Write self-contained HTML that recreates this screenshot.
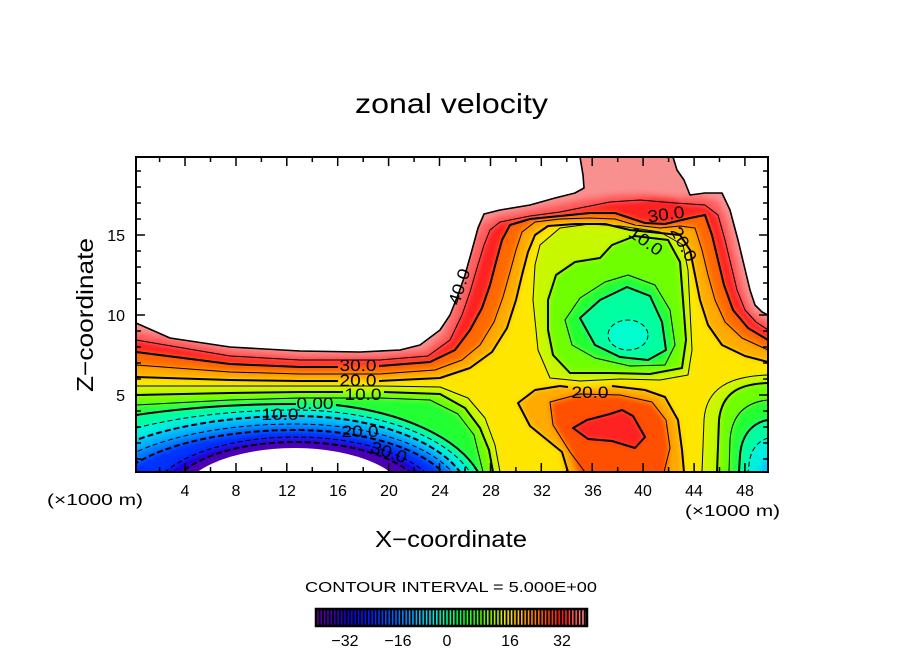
<!DOCTYPE html>
<html><head><meta charset="utf-8"><style>
html,body{margin:0;padding:0;background:#fff;}
svg{display:block;font-family:"Liberation Sans",sans-serif;}
</style></head><body>
<svg width="904" height="654" viewBox="0 0 904 654" xmlns="http://www.w3.org/2000/svg">
<defs>
<clipPath id="pc"><rect x="136" y="157" width="632" height="315"/></clipPath>
<filter id="bl" x="-5%" y="-5%" width="110%" height="110%"><feGaussianBlur stdDeviation="3"/></filter>
<linearGradient id="cb" x1="317" y1="0" x2="586" y2="0" gradientUnits="userSpaceOnUse">
<stop offset="0" stop-color="#6400a0"/><stop offset="0.06" stop-color="#3c00b4"/><stop offset="0.12" stop-color="#1400dc"/>
<stop offset="0.2" stop-color="#001eff"/><stop offset="0.3" stop-color="#006eff"/><stop offset="0.36" stop-color="#00aaff"/>
<stop offset="0.42" stop-color="#00e1f0"/><stop offset="0.48" stop-color="#00ffa0"/><stop offset="0.54" stop-color="#00ff3c"/>
<stop offset="0.6" stop-color="#3cff00"/><stop offset="0.66" stop-color="#aaf000"/><stop offset="0.71" stop-color="#ffe600"/>
<stop offset="0.78" stop-color="#ffa000"/><stop offset="0.86" stop-color="#ff4600"/><stop offset="0.91" stop-color="#ff1414"/>
<stop offset="0.96" stop-color="#ff5a5a"/><stop offset="1" stop-color="#ff9696"/>
</linearGradient>
<pattern id="st" x="317" y="0" width="3.4" height="40" patternUnits="userSpaceOnUse"><rect x="1.6" y="0" width="1.8" height="40" fill="#000"/></pattern>
</defs>

<text x="451.5" y="113" font-size="28" text-anchor="middle" textLength="193" lengthAdjust="spacingAndGlyphs">zonal velocity</text>

<g clip-path="url(#pc)">
<g filter="url(#bl)">
<rect x="120" y="140" width="670" height="355" fill="#f99090"/>
<path fill="#ff6060" d="M120,330 L136,331 L230,349 L300,354 L380,354 L425,349 L443,334 L452,312 L460,290 L467,265 L474,240 L481,223 L498,215 L530,209 L560,203 L585,198 L615,194 L645,193 L675,196 L702,196 L719,201 L728,222 L735,250 L741,275 L747,298 L753,312 L768,320 L790,322 L790,495 L120,495 Z"/>
<path fill="#ff2020" d="M120,339 L136,340 L230,356 L300,360 L380,360 L428,356 L450,340 L462,315 L470,292 L477,268 L484,245 L490,230 L500,222 L530,216 L560,212 L585,207 L610,202 L640,200 L675,203 L705,205 L718,215 L725,240 L731,265 L737,290 L745,310 L756,322 L768,330 L790,333 L790,495 L120,495 Z"/>
<path fill="#ff6a00" d="M120,351 L136,352 L230,364 L300,367 L380,366 L430,362 L455,350 L470,330 L482,308 L490,285 L496,262 L502,240 L510,225 L530,219 L560,216 L590,213 L615,213 L630,218 L645,223 L665,224 L690,218 L705,215 L712,235 L718,260 L724,285 L733,310 L748,328 L768,340 L790,342 L790,495 L120,495 Z"/>
<path fill="#ffaa00" d="M120,364 L136,365 L230,372 L300,374 L380,374 L435,370 L462,360 L480,345 L494,322 L503,297 L510,272 L516,250 L522,232 L535,222 L560,219 L590,218 L615,219 L635,225 L660,228 L680,226 L695,228 L702,250 L708,275 L715,300 L725,322 L742,338 L768,350 L790,352 L790,495 L120,495 Z"/>
<path fill="#ffe600" d="M120,376 L136,377 L230,380 L300,381 L380,381 L440,378 L470,368 L492,352 L507,328 L516,300 L522,275 L528,252 L535,235 L548,226 L575,224 L605,224 L630,230 L660,233 L680,235 L690,250 L695,275 L700,300 L708,325 L722,345 L745,356 L768,362 L790,364 L790,495 L120,495 Z"/>
<ellipse cx="657" cy="209" rx="30" ry="11" fill="#ff2020"/>
<path fill="#c8f800" d="M120,386 L136,386 L230,386 L300,386 L380,386 L440,387 L468,398 L485,418 L495,445 L500,472 L502,495 L120,495 Z"/>
<path fill="#70ff00" d="M120,395 L136,395 L230,393 L300,392 L380,392 L440,394 L465,408 L480,428 L489,450 L493,472 L495,495 L120,495 Z"/>
<path fill="#20ff30" d="M120,404 L136,405 L230,400 L300,398 L380,398 L430,400 L458,414 L474,435 L483,472 L485,495 L120,495 Z"/>
<path fill="#00ffa0" d="M-47,500 A342,96 0 0 1 295,404 A191,96 0 0 1 486,500 Z"/>
<path fill="#00f0e0" d="M30,500 A265,90 0 0 1 295,410 A184,90 0 0 1 479,500 Z"/>
<path fill="#00b4ff" d="M68,500 A227,84 0 0 1 295,416 A175,84 0 0 1 470,500 Z"/>
<path fill="#0078ff" d="M90,500 A205,76 0 0 1 295,424 A169,76 0 0 1 464,500 Z"/>
<path fill="#0032ff" d="M108,500 A187,70 0 0 1 295,430 A161,70 0 0 1 456,500 Z"/>
<path fill="#1400e0" d="M150,500 A145,63 0 0 1 295,437 A145,63 0 0 1 440,500 Z"/>
<path fill="#5000b0" d="M166,500 A129,58 0 0 1 295,442 A131,58 0 0 1 426,500 Z"/>
<path fill="#c8f800" d="M540,245 L560,228 L590,224 L620,226 L660,232 L683,245 L688,270 L690,310 L692,350 L688,375 L660,380 L620,379 L580,381 L550,378 L538,350 L533,300 L535,265 Z"/>
<path fill="#70ff00" d="M548,330 L548,300 L556,275 L575,262 L600,258 L612,245 L635,236 L668,240 L680,262 L683,300 L686,340 L682,368 L650,374 L610,373 L570,373 L553,355 Z"/>
<path fill="#20ff30" d="M565,320 L580,298 L605,282 L628,275 L655,285 L670,310 L675,345 L665,365 L630,366 L595,358 L572,345 Z"/>
<path fill="#00ffa0" d="M580,318 L600,300 L627,287 L650,296 L662,322 L666,350 L648,360 L620,357 L595,345 Z"/>
<ellipse cx="628" cy="335" rx="20" ry="15" fill="#00ffd0"/>
<path fill="#ffaa00" d="M518,403 L535,390 L560,386 L585,388 L610,386 L645,390 L665,397 L678,420 L682,450 L684,495 L568,495 L562,452 L530,426 Z"/>
<path fill="#ff5000" d="M550,402 L580,394 L620,395 L652,402 L666,420 L670,448 L664,495 L585,495 L570,452 L553,425 Z"/>
<path fill="#ff2020" d="M573,428 L587,420 L610,414 L622,410 L633,416 L645,437 L635,448 L612,441 L588,439 Z"/>
<path fill="#c8f800" d="M790,374 L768,375 C730,376 706,388 704,420 L702,495 L790,495 Z"/>
<path fill="#70ff00" d="M790,383 L768,383 C740,384 722,392 719,420 L717,495 L790,495 Z"/>
<path fill="#20ff30" d="M790,400 L768,400 C748,402 732,412 730,440 L729,495 L790,495 Z"/>
<path fill="#00ffa0" d="M790,420 L768,420 C755,422 742,432 740,455 L739,495 L790,495 Z"/>
<path fill="#00f0e0" d="M790,438 L768,438 C758,441 750,450 749,465 L748,495 L790,495 Z"/>
<path fill="#00c8ff" d="M790,456 L768,456 C764,460 760,466 759,472 L759,495 L790,495 Z"/>
</g>
<path fill="#fff" d="M179,500 A116,52 0 0 1 295,448 A113,52 0 0 1 408,500 Z"/>
<path fill="#fff" d="M130,150 L580,150 L580,157 L583,175 L584,188 L575,193 L555,198 L530,205 L500,210 L484,214 L478,228 L472,250 L465,275 L458,295 L450,315 L440,330 L420,345 L400,350 L360,352 L300,351 L230,347 L170,338 L136,323 L130,322 Z"/>
<path fill="#fff" d="M673,150 L775,150 L775,316 L768,315 L762,312 L755,305 L750,290 L744,265 L738,240 L730,210 L722,193 L705,193 L690,195 L684,180 L677,170 L673,157 Z"/>
<g fill="none" stroke="#000" stroke-width="1.6" stroke-linejoin="round">
<path d="M580,157 L583,175 L584,188 L575,193 L555,198 L530,205 L500,210 L484,214 L478,228 L472,250 L465,275 L458,295 L450,315 L440,330 L420,345 L400,350 L360,352 L300,351 L230,347 L170,338 L136,323"/>
<path d="M673,157 L677,170 L684,180 L690,195 L705,193 L722,193 L730,210 L738,240 L744,265 L750,290 L755,305 L762,312 L768,315"/>
</g>
<g fill="none" stroke="#000" stroke-width="1" stroke-linejoin="round">
<path d="M136,340 L230,356 L300,360 L380,360 L428,356 L450,340 L462,315 L470,292 L477,268 L484,245 L490,230 L500,222 L530,216 L560,212 L585,207 L610,202 L640,200 L675,203 L705,205 L718,215 L725,240 L731,265 L737,290 L745,310 L756,322 L768,330"/>
<path d="M136,365 L230,372 L300,374 L380,374 L435,370 L462,360 L480,345 L494,322 L503,297 L510,272 L516,250 L522,232 L535,222 L560,219 L590,218 L615,219 L635,225 L660,228 L680,226 L695,228 L702,250 L708,275 L715,300 L725,322 L742,338 L768,350"/>
<path d="M136,386 L230,386 L300,386 L380,386 L440,387 L468,398 L485,418 L495,445 L500,472"/>
<path d="M136,405 L230,400 L300,398 L380,398 L430,400 L458,414 L474,435 L483,472"/>
<path d="M540,245 L560,228 L590,224 L620,226 L660,232 L683,245 L688,270 L690,310 L692,350 L688,375 L660,380 L620,379 L580,381 L550,378 L538,350 L533,300 L535,265 Z"/>
<path d="M565,320 L580,298 L605,282 L628,275 L655,285 L670,310 L675,345 L665,365 L630,366 L595,358 L572,345 Z"/>
<path d="M585,472 L570,452 L553,425 L550,402 L580,394 L620,395 L652,402 L666,420 L670,448 L664,472"/>
<path d="M768,375 C730,376 706,388 704,420 L702,472"/>
<path d="M768,400 C748,402 732,412 730,440 L729,472"/>
</g>
<g fill="none" stroke="#000" stroke-width="2" stroke-linejoin="round">
<path d="M136,352 L230,364 L300,367 L338,367 M379,366 L430,362 L455,350 L470,330 L482,308 L490,285 L496,262 L502,240 L510,225 L530,219 L560,216 L590,213 L615,213 L630,218 L645,223 L665,224 L690,218 L705,215 L712,235 L718,260 L724,285 L733,310 L748,328 L768,340"/>
<path d="M136,377 L230,380 L300,381 L338,381 M379,381 L440,378 L470,368 L492,352 L507,328 L516,300 L522,275 L528,252 L535,235 L548,226 L575,224 L605,224 L630,230 L660,233 L680,235 L690,250 L695,275 L700,300 L708,325 L722,345 L745,356 L768,362"/>
<path d="M136,395 L230,393 L300,392 L343,392 M384,392 L440,394 L465,408 L480,428 L489,450 L493,472"/>
<path d="M136,415 A342,96 0 0 1 295,404 L296,404 M336,405 A191,96 0 0 1 478,472"/>
<path d="M548,330 L548,300 L556,275 L575,262 L600,258 L612,245 L635,236 L668,240 L680,262 L683,300 L686,340 L682,368 L650,374 L610,373 L570,373 L553,355 Z"/>
<path d="M580,318 L600,300 L627,287 L650,296 L662,322 L666,350 L648,360 L620,357 L595,345 Z"/>
<path d="M568,472 L562,452 L530,426 L518,403 L535,390 L560,386 L568,387 M612,386 L645,390 L665,397 L678,420 L682,450 L684,472"/>
<path d="M573,428 L587,420 L610,414 L622,410 L633,416 L645,437 L635,448 L612,441 L588,439 Z"/>
<path d="M768,383 C740,384 722,392 719,420 L717,472"/>
<path d="M768,420 C755,422 742,432 740,455 L739,472"/>
</g>
<g fill="none" stroke="#000" stroke-width="1" stroke-dasharray="5 3">
<path d="M30,500 A265,90 0 0 1 295,410 A184,90 0 0 1 479,500"/>
<path d="M90,500 A205,76 0 0 1 295,424 A169,76 0 0 1 464,500"/>
<path d="M150,500 A145,63 0 0 1 295,437 A145,63 0 0 1 440,500"/>
<path d="M768,438 C758,441 750,450 749,465 L748,472"/>
<ellipse cx="628" cy="335" rx="20" ry="15"/>
</g>
<g fill="none" stroke="#000" stroke-width="2" stroke-dasharray="6 3">
<path d="M68,500 A227,84 0 0 1 295,416 A175,84 0 0 1 470,500"/>
<path d="M108,500 A187,70 0 0 1 295,430 A161,70 0 0 1 456,500"/>
<path d="M166,500 A129,58 0 0 1 295,442 A131,58 0 0 1 426,500"/>
</g>
<g font-size="17" fill="#000" text-anchor="middle">
<text x="358" y="371" textLength="37" lengthAdjust="spacingAndGlyphs">30.0</text>
<text x="358" y="386" textLength="37" lengthAdjust="spacingAndGlyphs">20.0</text>
<text x="363" y="400" textLength="37" lengthAdjust="spacingAndGlyphs">10.0</text>
<text x="315" y="409" textLength="37" lengthAdjust="spacingAndGlyphs">0.00</text>
<text x="280" y="420" textLength="37" lengthAdjust="spacingAndGlyphs">10.0</text>
<text x="360" y="437" textLength="37" lengthAdjust="spacingAndGlyphs">20.0</text>
<text x="389" y="458" textLength="37" lengthAdjust="spacingAndGlyphs" transform="rotate(18 389 452)">30.0</text>
<text x="460" y="292" textLength="37" lengthAdjust="spacingAndGlyphs" transform="rotate(-72 460 287)">40.0</text>
<text x="666" y="220" textLength="37" lengthAdjust="spacingAndGlyphs" transform="rotate(-8 666 214)">30.0</text>
<text x="646" y="247" textLength="37" lengthAdjust="spacingAndGlyphs" transform="rotate(35 646 241)">10.0</text>
<text x="684" y="250" textLength="37" lengthAdjust="spacingAndGlyphs" transform="rotate(62 684 244)">20.0</text>
<text x="590" y="398" textLength="37" lengthAdjust="spacingAndGlyphs">20.0</text>
</g>
</g>

<rect x="136" y="157" width="632" height="315" fill="none" stroke="#000" stroke-width="2"/>
<g stroke="#000" stroke-width="1.5" fill="none">
<path d="M185,472v-9M236,472v-9M286.8,472v-9M337.7,472v-9M388.6,472v-9M439.5,472v-9M490.5,472v-9M541.3,472v-9M592.2,472v-9M643.1,472v-9M694.1,472v-9M744.9,472v-9"/>
<path d="M159.6,472v-5M210.5,472v-5M261.4,472v-5M312.3,472v-5M363.2,472v-5M414.1,472v-5M465,472v-5M515.9,472v-5M566.8,472v-5M617.7,472v-5M668.6,472v-5M719.5,472v-5"/>
<path d="M185,157v9M236,157v9M286.8,157v9M337.7,157v9M388.6,157v9M439.5,157v9M490.5,157v9M541.3,157v9M592.2,157v9M643.1,157v9M694.1,157v9M744.9,157v9"/>
<path d="M159.6,157v5M210.5,157v5M261.4,157v5M312.3,157v5M363.2,157v5M414.1,157v5M465,157v5M515.9,157v5M566.8,157v5M617.7,157v5M668.6,157v5M719.5,157v5"/>
<path d="M136,395h9M136,315h9M136,235h9M768,395h-9M768,315h-9M768,235h-9"/>
<path d="M136,459h5M136,443h5M136,427h5M136,411h5M136,379h5M136,363h5M136,347h5M136,331h5M136,299h5M136,283h5M136,267h5M136,251h5M136,219h5M136,203h5M136,187h5M136,171h5"/>
<path d="M768,459h-5M768,443h-5M768,427h-5M768,411h-5M768,379h-5M768,363h-5M768,347h-5M768,331h-5M768,299h-5M768,283h-5M768,267h-5M768,251h-5M768,219h-5M768,203h-5M768,187h-5M768,171h-5"/>
</g>

<g font-size="16" fill="#000" text-anchor="middle">
<text x="185" y="496">4</text><text x="236" y="496">8</text><text x="287" y="496">12</text><text x="338" y="496">16</text>
<text x="389" y="496">20</text><text x="440" y="496">24</text><text x="491" y="496">28</text><text x="542" y="496">32</text>
<text x="593" y="496">36</text><text x="643" y="496">40</text><text x="694" y="496">44</text><text x="745" y="496">48</text>
</g>
<g font-size="16" fill="#000" text-anchor="end">
<text x="125" y="241">15</text><text x="125" y="321">10</text><text x="125" y="401">5</text>
</g>
<text x="47" y="505" font-size="16" textLength="96" lengthAdjust="spacingAndGlyphs">(×1000 m)</text>
<text x="685" y="516" font-size="16" textLength="95" lengthAdjust="spacingAndGlyphs">(×1000 m)</text>
<text x="375" y="547" font-size="23" textLength="152" lengthAdjust="spacingAndGlyphs">X−coordinate</text>
<text x="93" y="315" font-size="23" text-anchor="middle" textLength="154" lengthAdjust="spacingAndGlyphs" transform="rotate(-90 93 315)">Z−coordinate</text>

<text x="305" y="592" font-size="15" textLength="292" lengthAdjust="spacingAndGlyphs">CONTOUR INTERVAL = 5.000E+00</text>
<rect x="316" y="609" width="271" height="17" fill="url(#cb)"/>
<rect x="316" y="609" width="271" height="17" fill="url(#st)"/>
<rect x="316" y="609" width="271" height="17" fill="none" stroke="#000" stroke-width="2.5"/>
<g font-size="16" fill="#000" text-anchor="middle">
<text x="345" y="646">−32</text><text x="398" y="646">−16</text><text x="447" y="646">0</text><text x="510" y="646">16</text><text x="562" y="646">32</text>
</g>
</svg>
</body></html>
